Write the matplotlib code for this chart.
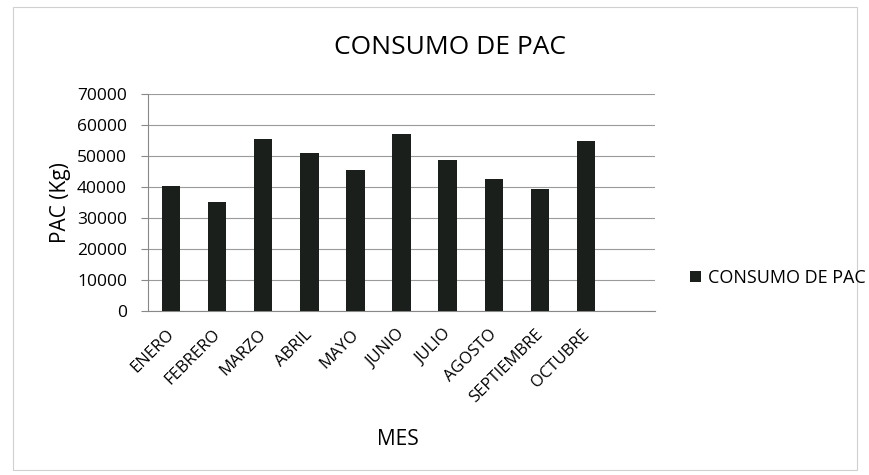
import matplotlib
matplotlib.use("Agg")
import matplotlib.pyplot as plt
import matplotlib.transforms as mtransforms

months = ["ENERO", "FEBRERO", "MARZO", "ABRIL", "MAYO", "JUNIO",
          "JULIO", "AGOSTO", "SEPTIEMBRE", "OCTUBRE"]
consumo = [40500, 35200, 55500, 51000, 45500, 57000,
           48800, 42500, 39500, 55000]
yticks = [0, 10000, 20000, 30000, 40000, 50000, 60000, 70000]

plt.rcParams['font.family'] = ['Open Sans', 'DejaVu Sans']

fig = plt.figure(figsize=(8.7, 4.75), dpi=100)
ax = fig.add_axes([0.170, 0.345, 0.583, 0.457])

x = list(range(len(months)))
ax.bar(x, consumo, width=0.4, color='#1b1f1b', label='CONSUMO DE PAC', zorder=3)

ax.set_xlim(-0.5, len(months) + 0.5)
ax.set_ylim(0, 70000)
ax.set_yticks(yticks)
ax.set_yticklabels([str(v) for v in yticks], fontsize=12.5)
ax.yaxis.grid(True, color='#9a9a9a', linewidth=0.8, zorder=0)
ax.set_xticks(x)
ax.set_xticklabels(months, rotation=45, ha='right', rotation_mode='anchor', fontsize=12)
ax.tick_params(axis='x', length=0, pad=11)
ax.tick_params(axis='y', length=5, color='#888888', pad=10)

offset = mtransforms.ScaledTranslation(-5 / 100, 0, fig.dpi_scale_trans)
for lbl in ax.get_xticklabels():
    lbl.set_transform(lbl.get_transform() + offset)

for s in ['top', 'right']:
    ax.spines[s].set_visible(False)
for s in ['left', 'bottom']:
    ax.spines[s].set_color('#888888')
    ax.spines[s].set_linewidth(0.8)

fig.text(0.069, 0.573, 'PAC (Kg)', fontsize=15, rotation=90, ha='center', va='center')
fig.text(0.457, 0.075, 'MES', fontsize=15, ha='center', va='center')
fig.text(0.517, 0.899, 'CONSUMO DE PAC', fontsize=19, ha='center', va='center')

leg = fig.legend(loc='center left', bbox_to_anchor=(0.793, 0.415), frameon=False,
                 fontsize=13, handlelength=0.6, handleheight=0.6, handletextpad=0.4,
                 borderpad=0, borderaxespad=0)

fig.patches.append(plt.Rectangle((0.015, 0.01), 0.97, 0.975, transform=fig.transFigure,
                                 fill=False, edgecolor='#d0d0d0', linewidth=0.8))

fig.savefig('out.png', dpi=100)
